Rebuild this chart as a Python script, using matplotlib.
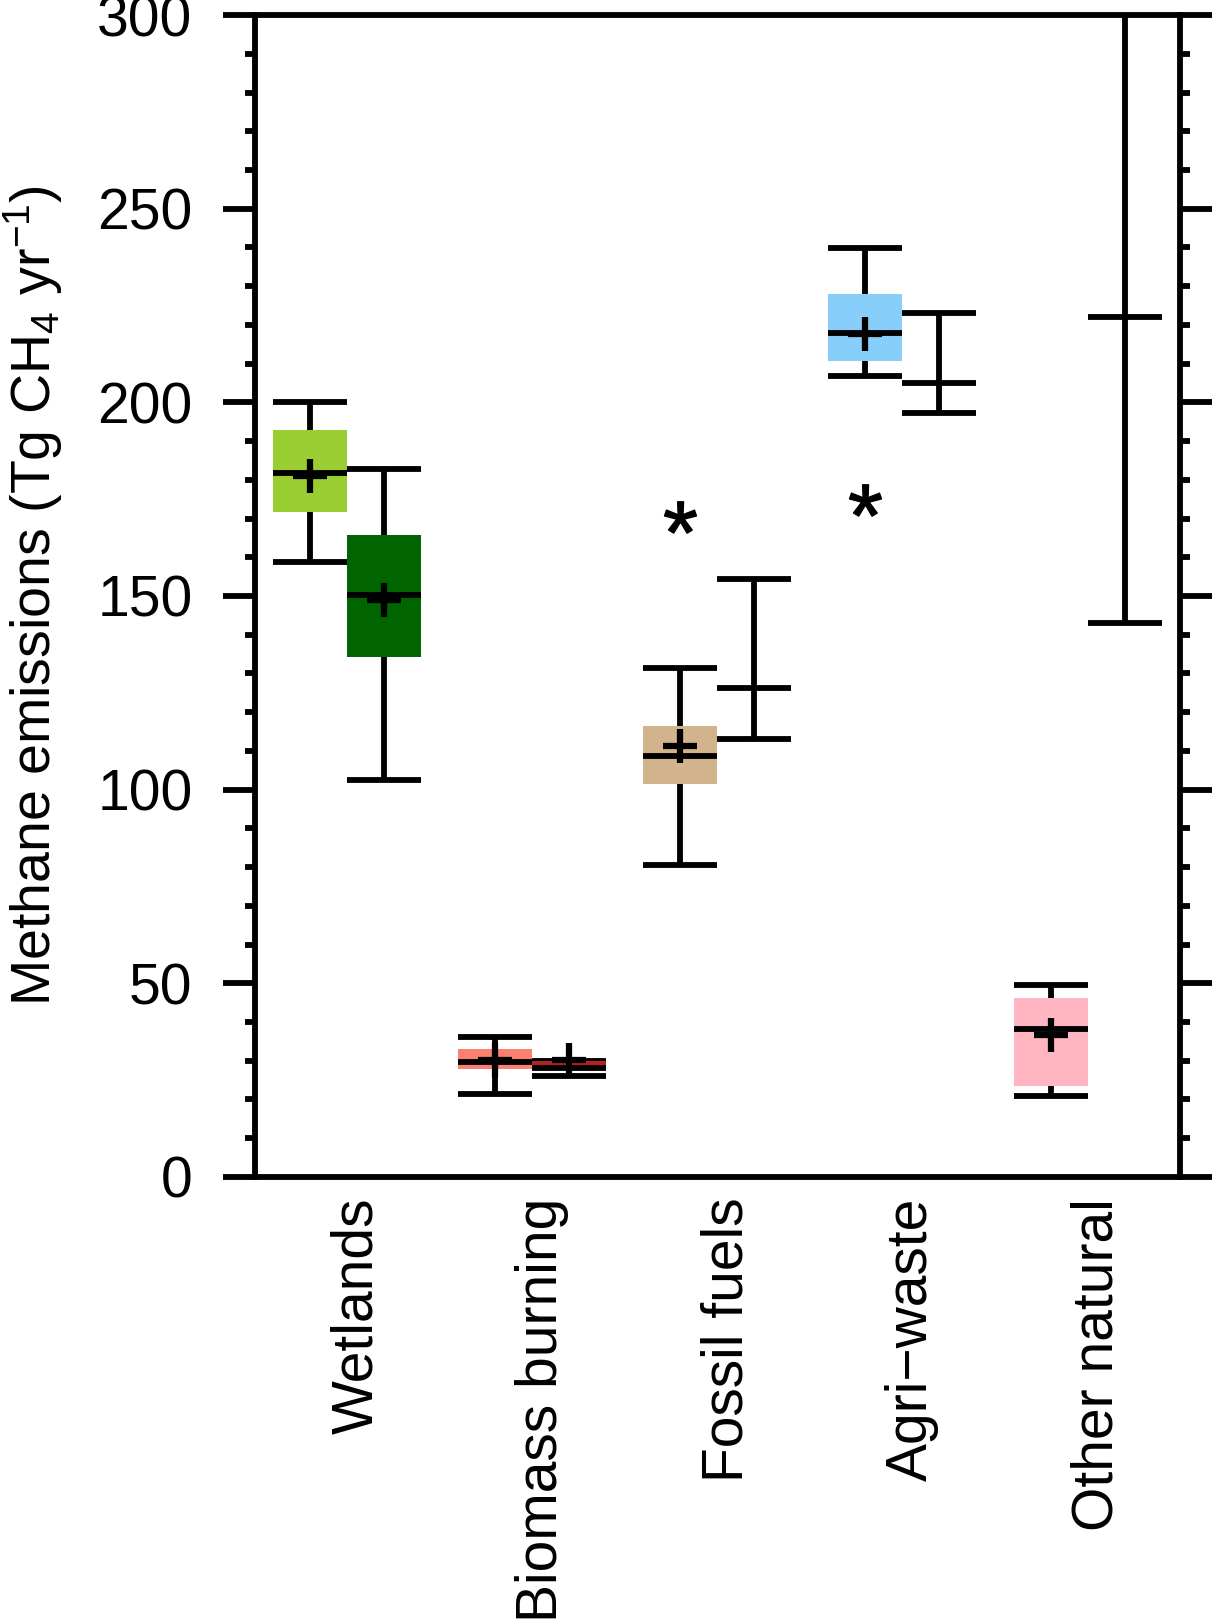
import matplotlib
matplotlib.use('Agg')
import matplotlib.pyplot as plt
import matplotlib.transforms as mtransforms
from matplotlib.ticker import MultipleLocator

plt.rcParams['font.family'] = ['Liberation Sans', 'DejaVu Sans']
plt.rcParams['mathtext.fontset'] = 'custom'
plt.rcParams['mathtext.rm'] = 'Liberation Sans'
plt.rcParams['mathtext.it'] = 'Liberation Sans'
plt.rcParams['mathtext.bf'] = 'Liberation Sans'

categories = ['Wetlands', 'Biomass burning', 'Fossil fuels', 'Agri\u2212waste', 'Other natural']

# first estimate of each pair (boxes)
low_a = [158.9, 21.4, 80.6, 206.9, 20.9]
q1_a = [171.8, 27.8, 101.5, 210.7, 23.5]
median_a = [181.7, 29.8, 108.7, 217.8, 38.2]
q3_a = [192.9, 33.0, 116.5, 228.0, 46.3]
high_a = [200.2, 36.1, 131.3, 239.8, 49.6]
mean_a = [181.0, 30.3, 111.3, 217.7, 36.7]
colors_a = ['#9ACD32', '#FA8072', '#D2B48C', '#87CEFA', '#FFB6C1']

# outliers of first estimate (category index, value)
outlier_idx = [2, 3]
outlier_val = [170.5, 174.8]

# second estimate of each pair
low_b = [102.5, 26.0, 113.0, 197.2, 143.0]
mid_b = [150.3, 28.0, 126.3, 205.1, 222.0]
high_b = [182.7, 29.9, 154.4, 223.0, 320.0]
q1_b = [134.3, 28.0, None, None, None]
q3_b = [165.8, 29.9, None, None, None]
mean_b = [148.9, 30.2, None, None, None]
colors_b = ['#006400', '#B22222', None, None, None]

lw = 4.2
width = 0.4
offset = 0.2

fig = plt.figure(figsize=(12.13, 16.2), dpi=100)
ax = fig.add_axes([0.2102, 0.2735, 0.7626, 0.7172])

xs = range(1, len(categories) + 1)

for i, x in enumerate(xs):
    # left member with box
    xa = x - offset
    ax.vlines(xa, low_a[i], high_a[i], color='black', lw=lw, zorder=2)
    ax.hlines([low_a[i], high_a[i]], xa - width / 2, xa + width / 2, color='black', lw=lw, zorder=2)
    ax.bar(xa, q3_a[i] - q1_a[i], bottom=q1_a[i], width=width, color=colors_a[i], zorder=3)
    ax.hlines(median_a[i], xa - width / 2, xa + width / 2, color='black', lw=lw, zorder=4)
    ax.plot(xa, mean_a[i], marker='+', ms=24, mew=lw + 0.3, color='black', zorder=5)

    # right member
    xb = x + offset
    ax.vlines(xb, low_b[i], high_b[i], color='black', lw=lw, zorder=2)
    ax.hlines([low_b[i], high_b[i]], xb - width / 2, xb + width / 2, color='black', lw=lw, zorder=2)
    if colors_b[i] is not None:
        ax.bar(xb, q3_b[i] - q1_b[i], bottom=q1_b[i], width=width, color=colors_b[i], zorder=3)
    ax.hlines(mid_b[i], xb - width / 2, xb + width / 2, color='black', lw=lw, zorder=4)
    if mean_b[i] is not None:
        ax.plot(xb, mean_b[i], marker='+', ms=24, mew=lw + 0.3, color='black', zorder=5)

for idx, val in zip(outlier_idx, outlier_val):
    ax.plot(idx + 1 - offset, val, marker='$*$', ms=23, color='black', zorder=5)

ax.set_xlim(0.5, 5.5)
ax.set_ylim(0, 300)
ax.set_xticks(list(xs))
ax.set_xticklabels(categories, rotation=90, fontsize=41)
ax.yaxis.set_major_locator(MultipleLocator(50))
ax.yaxis.set_minor_locator(MultipleLocator(10))
ax.tick_params(axis='x', length=0, pad=15)
ax.tick_params(axis='y', which='major', length=23, width=lw, direction='out',
               right=True, labelsize=41, pad=22)
ax.tick_params(axis='y', which='minor', length=7, width=lw, direction='out', right=True)
for sp in ax.spines.values():
    sp.set_linewidth(lw)

# nudge category labels a little to the right, like the original
# (done after tick_params, which resets the label transforms)
shift = mtransforms.ScaledTranslation(7 / 72, 0, fig.dpi_scale_trans)
for lab in ax.get_xticklabels():
    lab.set_transform(lab.get_transform() + shift)

ax.set_ylabel('Methane emissions (Tg CH$_4$ yr$^{-1}$)', fontsize=40, labelpad=23)

fig.savefig('out.png', dpi=100)
